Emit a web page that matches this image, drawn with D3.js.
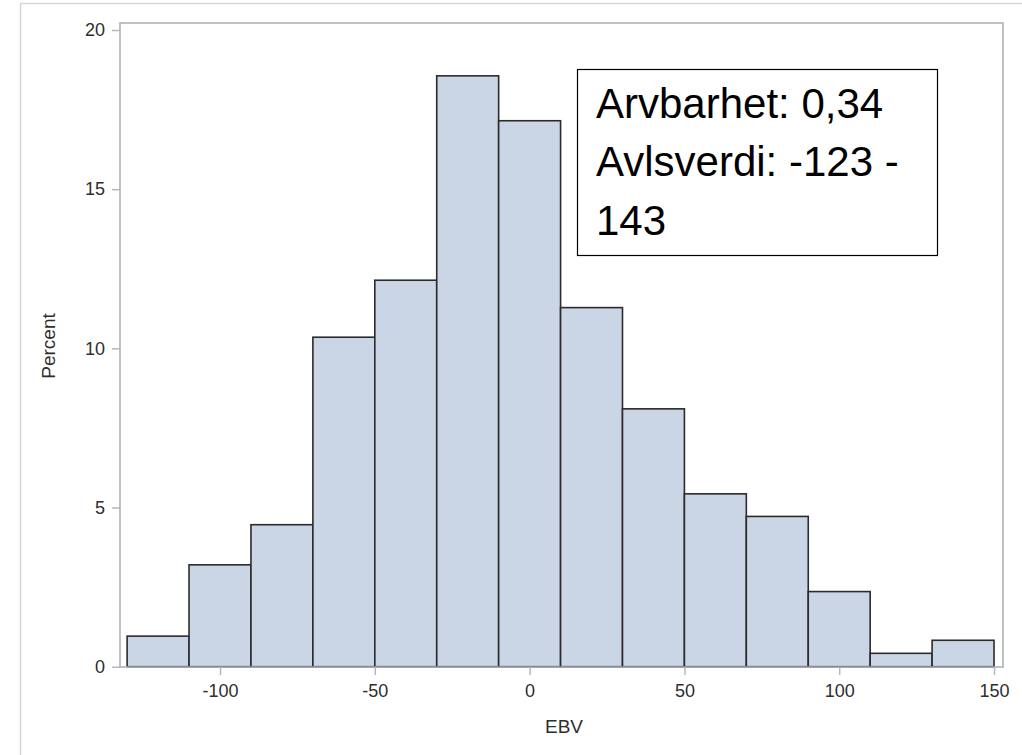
<!DOCTYPE html>
<html>
<head>
<meta charset="utf-8">
<script src="https://cdn.jsdelivr.net/npm/d3@7/dist/d3.min.js"></script>
<style>
  html, body { margin: 0; padding: 0; background: #fff; }
  svg { display: block; }
  text { font-family: "Liberation Sans", Arial, sans-serif; }
</style>
</head>
<body>
<svg id="chart" width="1022" height="755"></svg>
<script>
// Histogram of EBV values (percent of animals per 20-unit bin)
const binLower = [-130, -110, -90, -70, -50, -30, -10, 10, 30, 50, 70, 90, 110, 130];
const binWidth = 20;
const percent = [0.96, 3.20, 4.46, 10.35, 12.14, 18.56, 17.15, 11.28, 8.10, 5.43, 4.72, 2.36, 0.42, 0.83];
const xTicks = [-100, -50, 0, 50, 100, 150];
const yTicks = [0, 5, 10, 15, 20];
const xTitle = "EBV";
const yTitle = "Percent";
const noteLines = ["Arvbarhet: 0,34", "Avlsverdi: -123 -", "143"];

const svg = d3.select("#chart");

// outer graph border
svg.append("rect")
  .attr("x", 20.5).attr("y", 3.5)
  .attr("width", 1010).attr("height", 760)
  .attr("fill", "#fff")
  .attr("stroke", "#d6d6d6").attr("stroke-width", 1.5);

const plot = { left: 120, right: 1003, top: 23, bottom: 667 };

const x = d3.scaleLinear().domain([-132.3, 152.9]).range([plot.left, plot.right]);
const y = d3.scaleLinear().domain([0, 20.22]).range([plot.bottom - 0.3, plot.top]);

// bars
svg.append("g")
  .selectAll("rect")
  .data(binLower.map((lo, i) => ({ lo, hi: lo + binWidth, v: percent[i] })))
  .join("rect")
  .attr("x", d => x(d.lo))
  .attr("y", d => y(d.v))
  .attr("width", d => x(d.hi) - x(d.lo))
  .attr("height", d => y(0) - y(d.v))
  .attr("fill", "#cad5e5")
  .attr("stroke", "#2b2b2b")
  .attr("stroke-width", 1.6);

// plot frame
svg.append("rect")
  .attr("x", plot.left).attr("y", plot.top)
  .attr("width", plot.right - plot.left).attr("height", plot.bottom - plot.top)
  .attr("fill", "none")
  .attr("stroke", "#a9adb2").attr("stroke-width", 1.5);

// axes (plain hyphen for negative numbers)
const fmt = d => String(d);
const xAxis = d3.axisBottom(x).tickValues(xTicks).tickSize(8).tickPadding(9).tickFormat(fmt);
const yAxis = d3.axisLeft(y).tickValues(yTicks).tickSize(8).tickPadding(7).tickFormat(fmt);

const gx = svg.append("g").attr("transform", `translate(0,${plot.bottom})`).call(xAxis);
const gy = svg.append("g").attr("transform", `translate(${plot.left},0)`).call(yAxis);

[gx, gy].forEach(g => {
  g.select(".domain").remove();
  g.selectAll(".tick line").attr("stroke", "#b4b8bd").attr("stroke-width", 1.5);
  g.selectAll(".tick text")
    .attr("fill", "#2e2e2e")
    .style("font-size", "18px")
    .style("font-family", "'Liberation Sans', Arial, sans-serif");
});

// axis titles
svg.append("text")
  .attr("x", 564).attr("y", 733)
  .attr("text-anchor", "middle")
  .attr("fill", "#2e2e2e")
  .style("font-size", "19px")
  .text(xTitle);

svg.append("text")
  .attr("transform", "translate(55,346) rotate(-90)")
  .attr("text-anchor", "middle")
  .attr("fill", "#2e2e2e")
  .style("font-size", "19px")
  .text(yTitle);

// annotation box
const note = svg.append("g");
note.append("rect")
  .attr("x", 577.5).attr("y", 69.5)
  .attr("width", 360).attr("height", 186)
  .attr("fill", "#fff")
  .attr("stroke", "#000").attr("stroke-width", 1.2);
const baselines = [118, 176, 235];
note.selectAll("text")
  .data(noteLines)
  .join("text")
  .attr("x", 596)
  .attr("y", (d, i) => baselines[i])
  .attr("fill", "#000")
  .style("font-size", "42px")
  .text(d => d);
</script>
</body>
</html>
